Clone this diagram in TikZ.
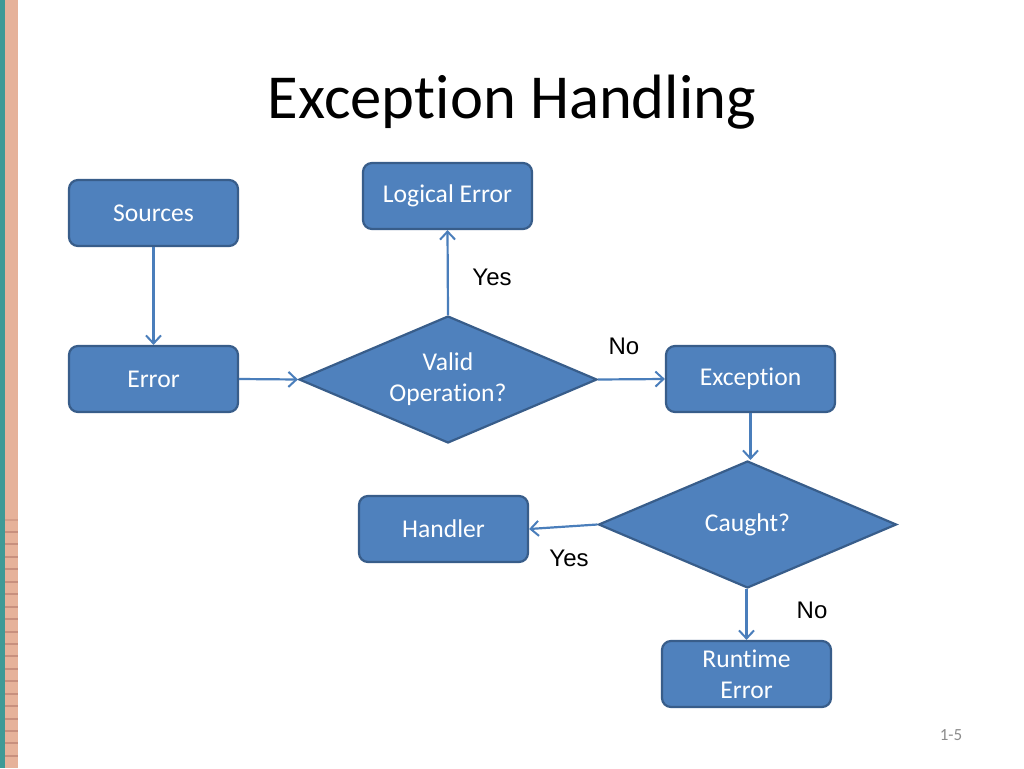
\documentclass[tikz,border=0pt]{standalone}
\usepackage{fontspec}
\setmainfont{Carlito}[Ligatures={NoCommon,NoContextual},Contextuals=NoAlternate]
\newfontfamily\arialf{Liberation Sans}
\usetikzlibrary{shapes.geometric,arrows.meta}
\definecolor{nodefill}{HTML}{4F81BD}
\definecolor{nodeline}{HTML}{385D8A}
\definecolor{arrowcol}{HTML}{4A7EBB}
\definecolor{teal}{HTML}{3E9A96}
\definecolor{salmon}{HTML}{E6B29A}
\definecolor{salmondark}{HTML}{C8907E}
\definecolor{numgray}{HTML}{8C8C8C}
\tikzset{
  box/.style={rectangle, rounded corners=9pt, minimum width=169pt, minimum height=66pt,
    fill=nodefill, draw=nodeline, line width=2.2pt, text=white, align=center,
    font=\fontsize{25.6pt}{31pt}\selectfont, inner sep=2pt},
  decision/.style={diamond, minimum width=298pt, minimum height=127pt, aspect=2.35,
    fill=nodefill, draw=nodeline, line width=2.2pt, text=white, align=center,
    font=\fontsize{25.6pt}{31pt}\selectfont, inner sep=1pt},
  conn/.style={draw=arrowcol, line width=2.2pt,
    -{Straight Barb[length=8pt,width=15pt,line width=2pt]}},
  lbl/.style={font=\arialf\fontsize{24pt}{28pt}\selectfont, text=black, inner sep=0pt}
}
\begin{document}
\begin{tikzpicture}[x=1pt,y=-1pt]
\useasboundingbox (0,0) rectangle (1024,768);
\fill[white] (0,0) rectangle (1024,768);
% left stripes
\fill[teal] (0,0) rectangle (4.5,768);
\fill[salmon] (4.5,0) rectangle (18,768);
\foreach \i in {0,...,18} {
  \draw[salmondark, line width=2pt] (5,{532+12.44*\i}) -- (17.5,{532+12.44*\i});
}
\draw[salmondark!60!salmon, line width=1.5pt] (5,520) -- (17.5,520);
% title
\node[anchor=base, font=\fontsize{62.6pt}{70pt}\selectfont, inner sep=0pt] (title) at (512,118) {Excep\kern0pt tion Handling};
% nodes
\node[box] (src) at (153.5,213) {Sources};
\node[box] (err) at (153.5,379) {Error};
\node[box] (log) at (447.5,196) {Logical Error};
\node[decision] (valid) at (448,379.5) {Valid\\Opera\kern0pt tion?};
\node[box] (exc) at (750.5,379) {Excep\kern0pt tion};
\node[decision] (caught) at (747.5,524.5) {Caught?};
\node[box] (hand) at (443.5,529) {Handler};
\node[box] (rt) at (746.5,674) {Runt\kern0pt ime\\Error};
% connectors
\draw[conn] (src) -- (err);
\draw[conn] (err.east) -- (valid.west);
\draw[conn] (valid.north) -- (log.south);
\draw[conn] (valid.east) -- (exc.west);
\draw[conn] (exc.south) -- (exc.south |- caught.north);
\draw[conn] (caught.west) -- (hand.east);
\draw[conn] (caught.south -| rt.north) -- (rt.north);
% labels
\node[lbl] (yes1) at (492,277) {Yes};
\node[lbl] (no1) at (624,346) {No};
\node[lbl] (yes2) at (569,558) {Yes};
\node[lbl] (no2) at (812,610) {No};
% slide number
\node[font=\fontsize{17pt}{20pt}\selectfont, text=numgray, inner sep=0pt] (num) at (951,735) {1-5};
\end{tikzpicture}
\end{document}
